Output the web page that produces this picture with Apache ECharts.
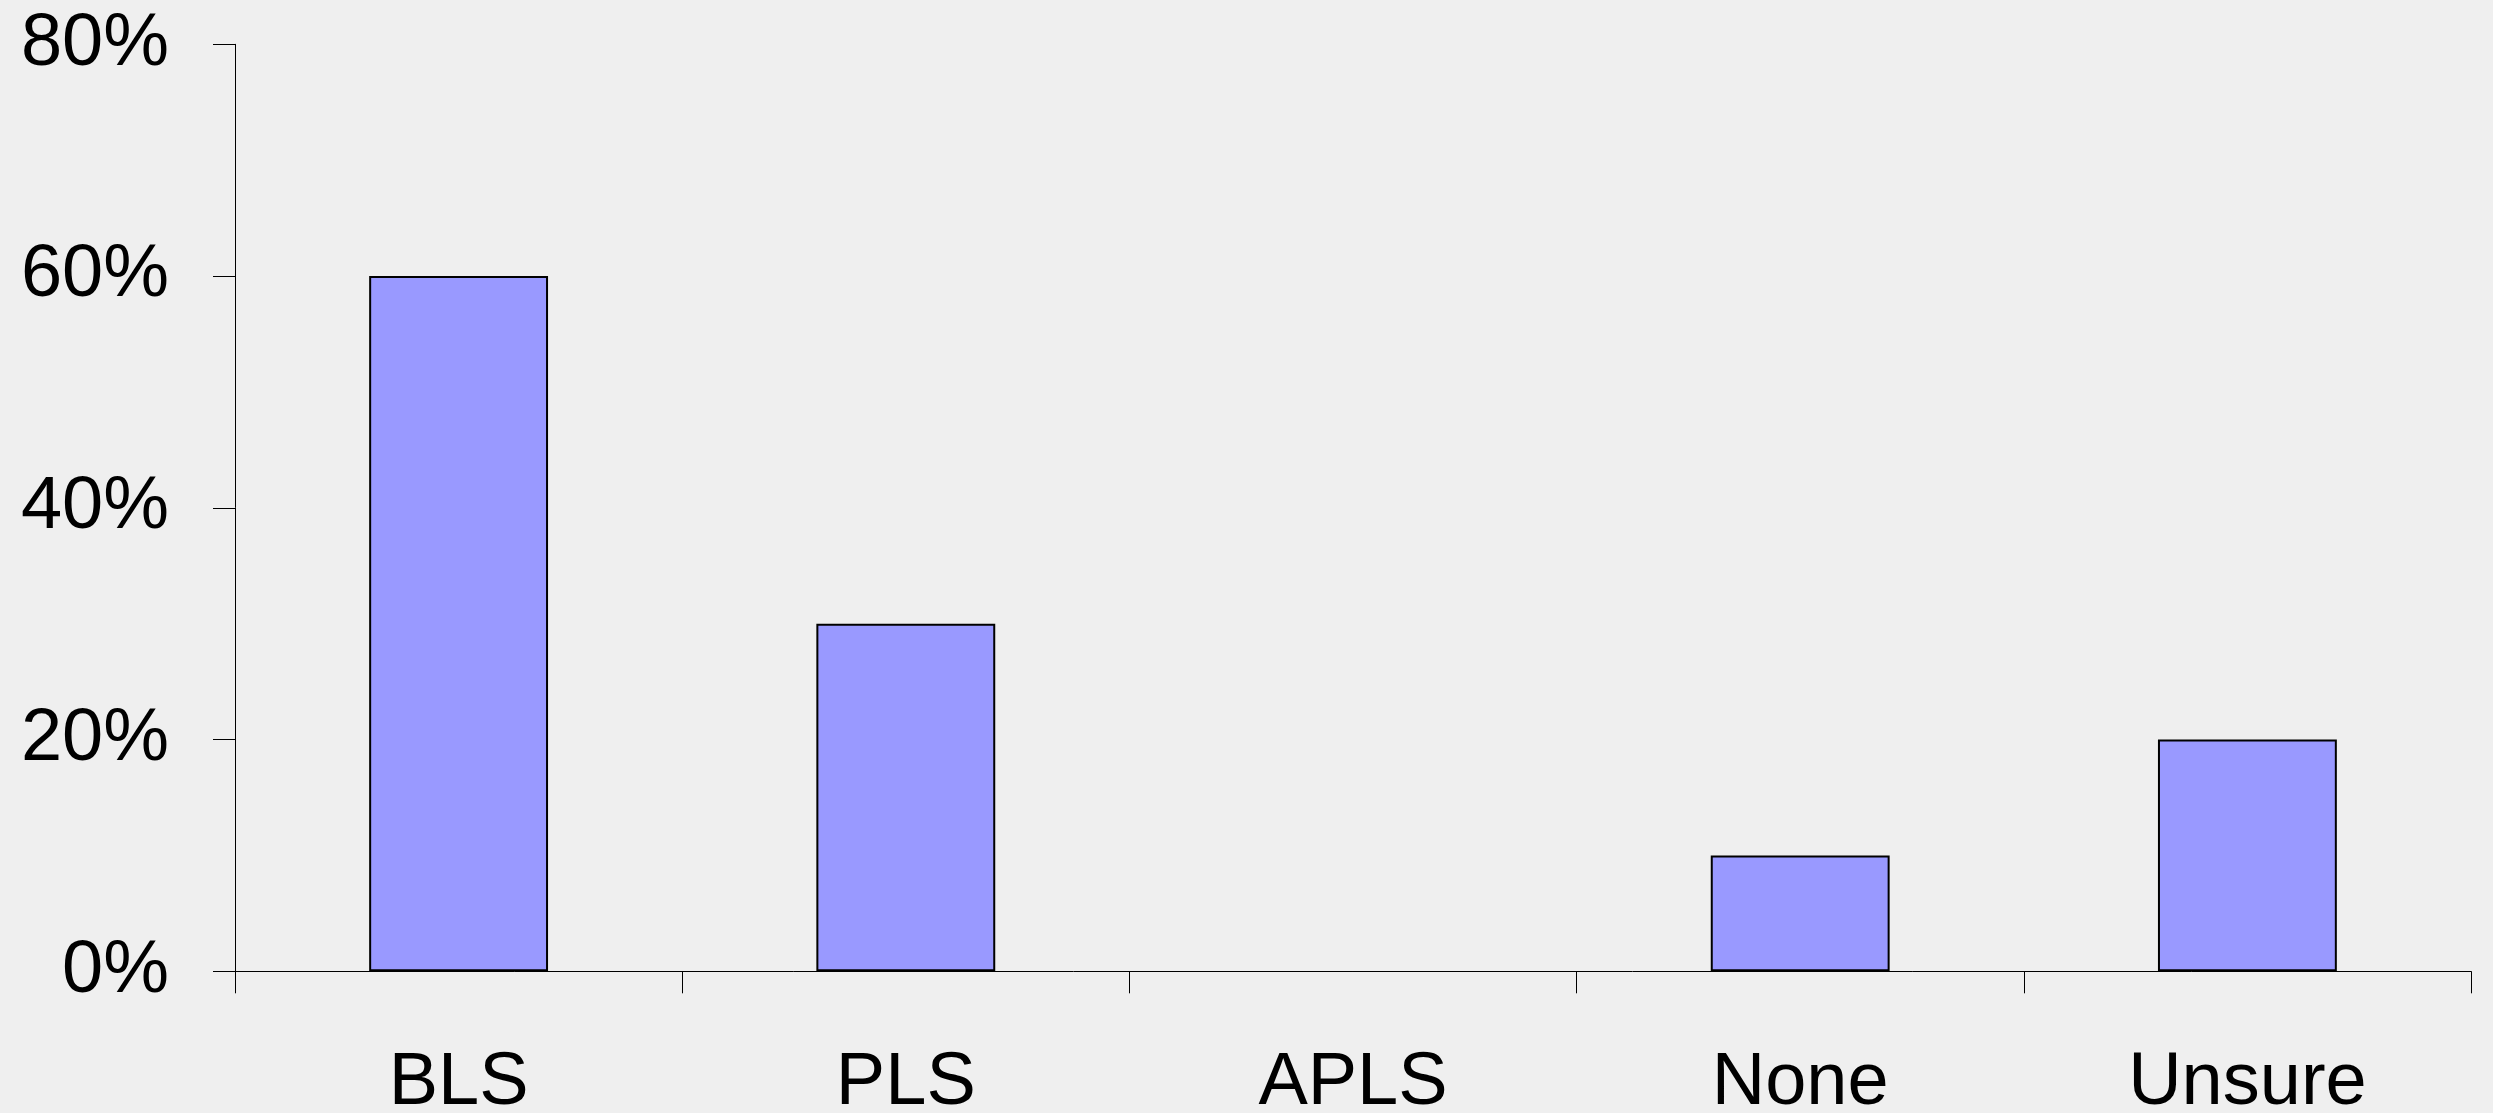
<!DOCTYPE html>
<html>
<head>
<meta charset="utf-8">
<script src="https://cdn.jsdelivr.net/npm/echarts@6/dist/echarts.min.js"></script>
<style>
  html, body { margin: 0; padding: 0; background: #efefef; }
  #chart { width: 2493px; height: 1113px; }
</style>
</head>
<body>
<div id="chart"></div>
<script>
  // categories and values
  const categories = ['BLS', 'PLS', 'APLS', 'None', 'Unsure'];
  const percents = [60, 30, 0, 10, 20];
  const yTicks = [0, 20, 40, 60, 80];

  const myChart = echarts.init(document.getElementById('chart'));

  // zero bars draw nothing in the original, so drop their outline
  const barData = percents.map(v => (v === 0 ? { value: v, itemStyle: { borderWidth: 0, opacity: 0 } } : v));

  const option = {
    backgroundColor: '#efefef',
    animation: false,
    textStyle: { fontFamily: 'Liberation Sans, Arial, sans-serif' },
    grid: {
      left: 235,
      right: 22,
      top: 44.3,
      bottom: 141.7,
      outerBoundsMode: 'none',
      containLabel: false
    },
    xAxis: {
      type: 'category',
      data: categories,
      axisLine: { lineStyle: { color: '#000', width: 1 } },
      axisTick: { show: true, length: 22, lineStyle: { color: '#000', width: 1 } },
      axisLabel: { color: '#000', fontSize: 74, margin: 75 }
    },
    yAxis: {
      type: 'value',
      min: yTicks[0],
      max: yTicks[yTicks.length - 1],
      interval: 20,
      splitLine: { show: false },
      axisLine: { show: true, lineStyle: { color: '#000', width: 1 } },
      axisTick: { show: true, length: 22, lineStyle: { color: '#000', width: 1 } },
      axisLabel: { color: '#000', fontSize: 74, margin: 66, formatter: '{value}%' }
    },
    series: [
      {
        type: 'bar',
        data: barData,
        barWidth: '40%',
        itemStyle: { color: '#9999ff', borderColor: '#000', borderWidth: 2 }
      }
    ]
  };

  myChart.setOption(option);
</script>
</body>
</html>
